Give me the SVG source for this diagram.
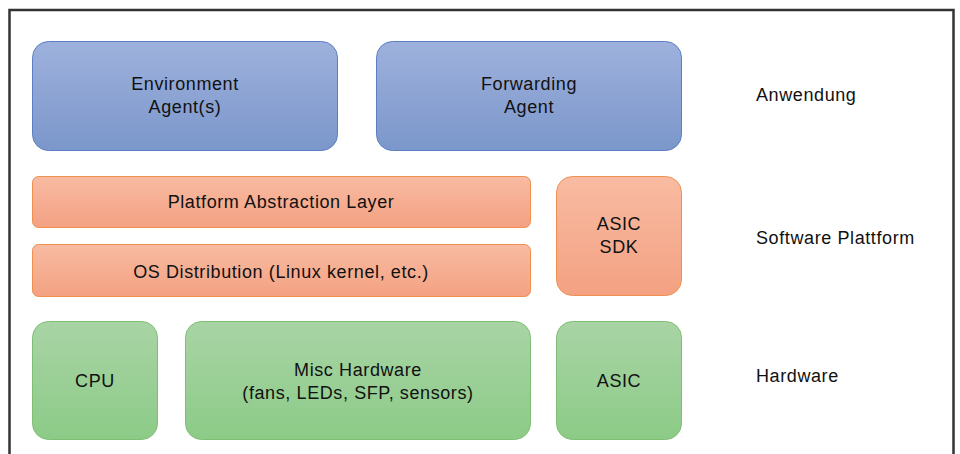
<svg xmlns="http://www.w3.org/2000/svg" width="960" height="454" viewBox="0 0 960 454">
<defs>
<linearGradient id="gBlue" x1="0" y1="0" x2="0" y2="1"><stop offset="0" stop-color="#9eb1dc"/><stop offset="1" stop-color="#7b97cb"/></linearGradient>
<linearGradient id="gOrange" x1="0" y1="0" x2="0" y2="1"><stop offset="0" stop-color="#f8bba2"/><stop offset="1" stop-color="#f4a182"/></linearGradient>
<linearGradient id="gGreen" x1="0" y1="0" x2="0" y2="1"><stop offset="0" stop-color="#a9d4a5"/><stop offset="1" stop-color="#8ccb87"/></linearGradient>
</defs>
<style>
.blue{fill:url(#gBlue);stroke:#5b7fc4;stroke-width:1}
.orange{fill:url(#gOrange);stroke:#f0904e;stroke-width:1}
.green{fill:url(#gGreen);stroke:#7fbf73;stroke-width:1}
text{font-family:"Liberation Sans",Arial,sans-serif;font-size:18px;letter-spacing:0.6px;fill:#111;}
.c{text-anchor:middle}
</style>
<rect width="960" height="454" fill="#fff"/>
<rect x="9.5" y="10" width="944" height="460" fill="none" stroke="#333" stroke-width="2.5"/>
<g id="env-agent"><rect class="blue" x="32.5" y="41.5" width="305" height="109" rx="16"/><text class="c" x="185" y="90">Environment</text><text class="c" x="185" y="113">Agent(s)</text></g>
<g id="fwd-agent"><rect class="blue" x="376.5" y="41.5" width="305" height="109" rx="16"/><text class="c" x="529" y="90">Forwarding</text><text class="c" x="529" y="113">Agent</text></g>
<g id="pal"><rect class="orange" x="32.5" y="176.5" width="498" height="51" rx="6"/><text class="c" x="281" y="208">Platform Abstraction Layer</text></g>
<g id="os"><rect class="orange" x="32.5" y="244.5" width="498" height="52" rx="6"/><text class="c" x="281" y="278">OS Distribution (Linux kernel, etc.)</text></g>
<g id="asic-sdk"><rect class="orange" x="556.5" y="176.5" width="125" height="119" rx="16"/><text class="c" x="619" y="230">ASIC</text><text class="c" x="619" y="253">SDK</text></g>
<g id="cpu"><rect class="green" x="32.5" y="321.5" width="125" height="118" rx="16"/><text class="c" x="95" y="387">CPU</text></g>
<g id="misc"><rect class="green" x="185.5" y="321.5" width="345" height="118" rx="16"/><text class="c" x="358" y="376">Misc Hardware</text><text class="c" x="358" y="398.5">(fans, LEDs, SFP, sensors)</text></g>
<g id="asic"><rect class="green" x="556.5" y="321.5" width="125" height="118" rx="16"/><text class="c" x="619" y="387">ASIC</text></g>
<g id="labels"><text x="756" y="101">Anwendung</text><text x="756" y="244">Software Plattform</text><text x="756" y="382">Hardware</text></g>
<g id="connectors"></g>
</svg>
